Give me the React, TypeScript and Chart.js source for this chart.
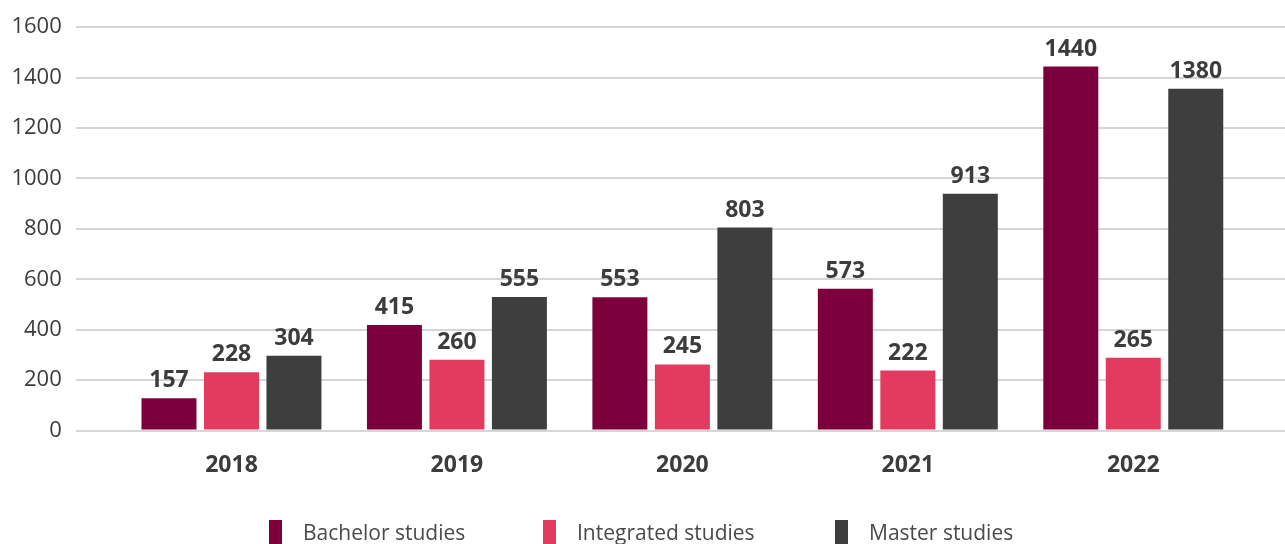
import React, { useEffect, useRef } from "react";
import { Chart, registerables } from "chart.js";

Chart.register(...registerables);

const years = ["2018", "2019", "2020", "2021", "2022"];
const seriesNames = ["Bachelor studies", "Integrated studies", "Master studies"];
const seriesColors = ["#7b003c", "#e23b5f", "#3e3e3e"];

// bar heights as drawn in the picture
const bachelorValues = [128, 419, 529, 562, 1444];
const integratedValues = [231, 281, 262, 238, 289];
const masterValues = [297, 530, 805, 939, 1356];

// value labels printed above the bars
const bachelorLabels = ["157", "415", "553", "573", "1440"];
const integratedLabels = ["228", "260", "245", "222", "265"];
const masterLabels = ["304", "555", "803", "913", "1380"];

const yTicks = [0, 200, 400, 600, 800, 1000, 1200, 1400, 1600];

const FONT = "'Open Sans', 'DejaVu Sans', sans-serif";
const TEXT = "#3c3c3c";
const GRID = "#d6d6d6";

const valueLabelPlugin = {
  id: "valueLabels",
  afterDatasetsDraw(chart: any) {
    const ctx = chart.ctx;
    const labelSets = [bachelorLabels, integratedLabels, masterLabels];
    ctx.save();
    ctx.font = `bold 23px ${FONT}`;
    ctx.fillStyle = TEXT;
    ctx.textAlign = "center";
    ctx.textBaseline = "alphabetic";
    chart.data.datasets.forEach((_ds: any, di: number) => {
      const meta = chart.getDatasetMeta(di);
      meta.data.forEach((el: any, i: number) => {
        ctx.fillText(labelSets[di][i], el.x, el.y - 11);
      });
    });
    ctx.restore();
  },
};

const legendPlugin = {
  id: "customLegend",
  afterDraw(chart: any) {
    const ctx = chart.ctx;
    ctx.save();
    ctx.font = `21px ${FONT}`;
    const boxW = 13;
    const gapText = 21;
    const starts = [269, 543, 835];
    chart.data.datasets.forEach((ds: any, i: number) => {
      const x = starts[i];
      ctx.fillStyle = ds.backgroundColor;
      ctx.fillRect(x, 520, boxW, 26);
      ctx.fillStyle = "#4a4a4a";
      ctx.textAlign = "left";
      ctx.textBaseline = "alphabetic";
      ctx.fillText(ds.label, x + boxW + gapText, 539.5);
    });
    ctx.restore();
  },
};

export default function App() {
  const canvasRef = useRef<HTMLCanvasElement | null>(null);

  useEffect(() => {
    if (!canvasRef.current) return;
    const valueSets = [bachelorValues, integratedValues, masterValues];
    const chart = new Chart(canvasRef.current, {
      type: "bar",
      data: {
        labels: years,
        datasets: seriesNames.map((name, i) => ({
          label: name,
          data: valueSets[i],
          backgroundColor: seriesColors[i],
          borderWidth: 0,
          categoryPercentage: 0.8315,
          barPercentage: 0.88,
        })),
      },
      plugins: [valueLabelPlugin, legendPlugin],
      options: {
        responsive: false,
        animation: false,
        layout: { padding: { top: 24, left: 0, right: 0, bottom: 53.5 } },
        plugins: {
          legend: { display: false },
          tooltip: { enabled: false },
        },
        scales: {
          x: {
            grid: { display: false },
            border: { display: false },
            ticks: {
              color: TEXT,
              font: { family: FONT, size: 23, weight: "bold" },
              padding: 13,
            },
            afterFit(scale: any) {
              scale.height = 60;
            },
          },
          y: {
            position: "left",
            min: 0,
            max: 1600,
            border: { display: false },
            grid: { color: GRID, lineWidth: 2, drawTicks: true, tickLength: 43 },
            afterBuildTicks(scale: any) {
              scale.ticks = yTicks.map((v) => ({ value: v }));
            },
            ticks: {
              color: TEXT,
              font: { family: FONT, size: 22 },
              padding: 14,
              callback: (v: any) => String(v),
            },
            afterFit(scale: any) {
              scale.width = 118.75;
            },
          },
          y2: {
            position: "right",
            min: 0,
            max: 1600,
            border: { display: false },
            grid: { color: GRID, lineWidth: 2, drawOnChartArea: false, drawTicks: true, tickLength: 39 },
            afterBuildTicks(scale: any) {
              scale.ticks = yTicks.map((v) => ({ value: v }));
            },
            ticks: { display: false },
            afterFit(scale: any) {
              scale.width = 39;
            },
          },
        },
      } as any,
    });
    return () => chart.destroy();
  }, []);

  return (
    <div style={{ position: "fixed", left: 0, top: 0, width: 1285, height: 544, background: "#fff" }}>
      <canvas ref={canvasRef} width={1285} height={544} style={{ width: 1285, height: 544, display: "block" }} />
    </div>
  );
}
